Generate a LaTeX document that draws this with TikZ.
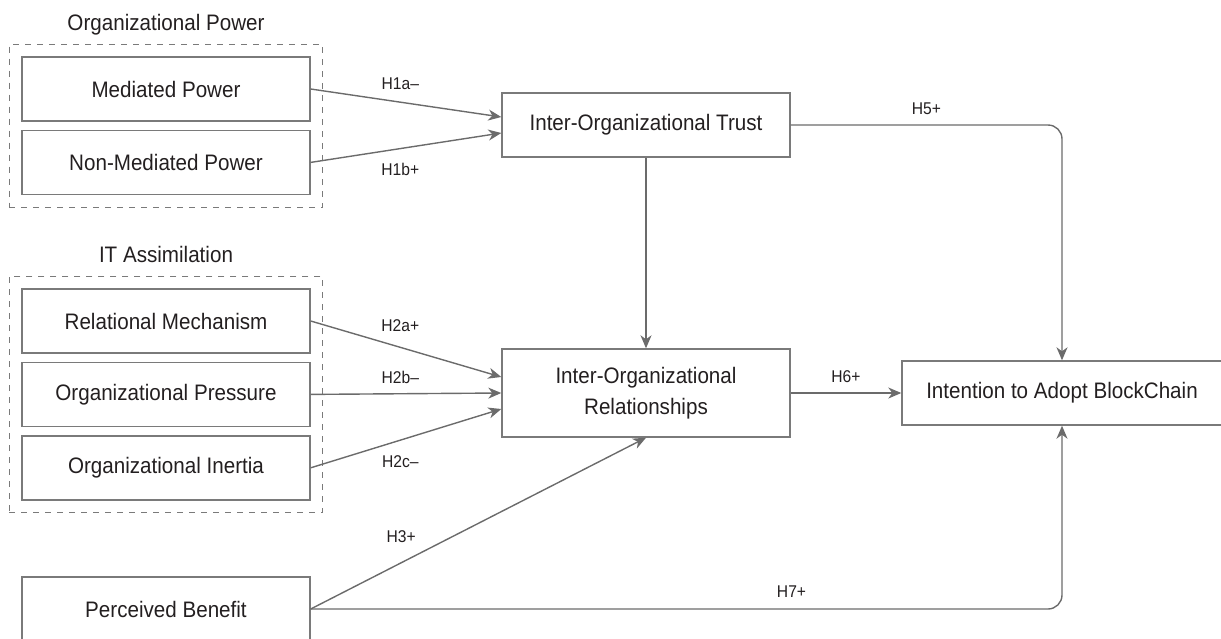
\documentclass[tikz,border=0pt]{standalone}
\usepackage{fontspec}
\setmainfont[FakeStretch=0.92]{Liberation Sans}
\usetikzlibrary{arrows.meta,positioning,fit,calc}
\definecolor{ln}{HTML}{6B6B6B}
\definecolor{bx}{HTML}{7A7A7A}
\definecolor{tx}{HTML}{231F20}

\begin{document}
\begin{tikzpicture}[x=0.5pt, y=-0.5pt, >={Stealth[length=6.5pt,width=5.5pt,inset=2pt]},
	   font=\fontsize{11.2}{15.8}\selectfont, text=tx,
	   b/.style={draw=bx, line width=0.7pt, minimum width=144pt, minimum height=32pt, inner sep=2pt, align=center},
	   g/.style={draw=bx, dash pattern=on 3pt off 3pt, line width=0.6pt, inner sep=6pt},
	   e/.style={->, draw=ln, line width=0.7pt},
	   h/.style={font=\fontsize{8.5}{9}\selectfont, inner sep=1pt}]
	  \useasboundingbox (0,0) rectangle (1221,638);
	  % left column
	  \node[b] (mp) at (166,89) {Mediated Power};
	  \node[b, below=4pt of mp] (nmp) {Non-Mediated Power};
	  \node[b] (rm) at (166,321) {Relational Mechanism};
	  \node[b, below=4pt of rm] (op) {Organizational Pressure};
	  \node[b, below=4pt of op] (oi) {Organizational Inertia};
	  \node[b] (pb) at (166,609) {Perceived Benefit};
	  \node[g, fit=(mp)(nmp)] (g1) {};
	  \node[g, fit=(rm)(oi)] (g2) {};
	  \node[anchor=base] (g1lbl) at (166,30) {Organizational Power};
	  \node[anchor=base] (g2lbl) at (166,262) {IT Assimilation};
	  % middle and right
	  \node[b] (iot) at (646,125) {Inter-Organizational Trust};
	  \node[b, minimum height=44pt] (ior) at (646,393) {Inter-Organizational\\ Relationships};
	  \node[b, minimum width=160pt] (itab) at (1062,393) {Intention to Adopt BlockChain};
	  % paths
	  \draw[e] (mp.east) -- node[h, pos=.47, above=4.8pt] {H1a\textendash} ($(iot.west)+(0,-8)$);
	  \draw[e] (nmp.east) -- node[h, pos=.47, below=5.8pt] {H1b+} ($(iot.west)+(0,8)$);
	  \draw[e] (rm.east) -- node[h, pos=.47, above=6.3pt] {H2a+} ($(ior.west)+(0,-16)$);
	  \draw[e] (op.east) -- node[h, pos=.47, above=3.8pt] {H2b\textendash} (ior.west);
	  \draw[e] (oi.east) -- node[h, pos=.47, below=6.3pt] {H2c\textendash} ($(ior.west)+(0,16)$);
	  \draw[e] (pb.east) -- node[h, pos=.27, above=8.8pt] {H3+} (ior.south);
	  \draw[e] (iot) -- (ior);
	  \draw[e, rounded corners=7pt] (iot.east) -| node[h, pos=.25, above=3.8pt] {H5+} (itab.north);
	  \draw[e] (ior) -- node[h, above=3.8pt] {H6+} (itab);
	  \draw[e, rounded corners=7pt] (pb.east) -| node[h, pos=.32, above=4.3pt] {H7+} (itab.south);
	\end{tikzpicture}
\end{document}
